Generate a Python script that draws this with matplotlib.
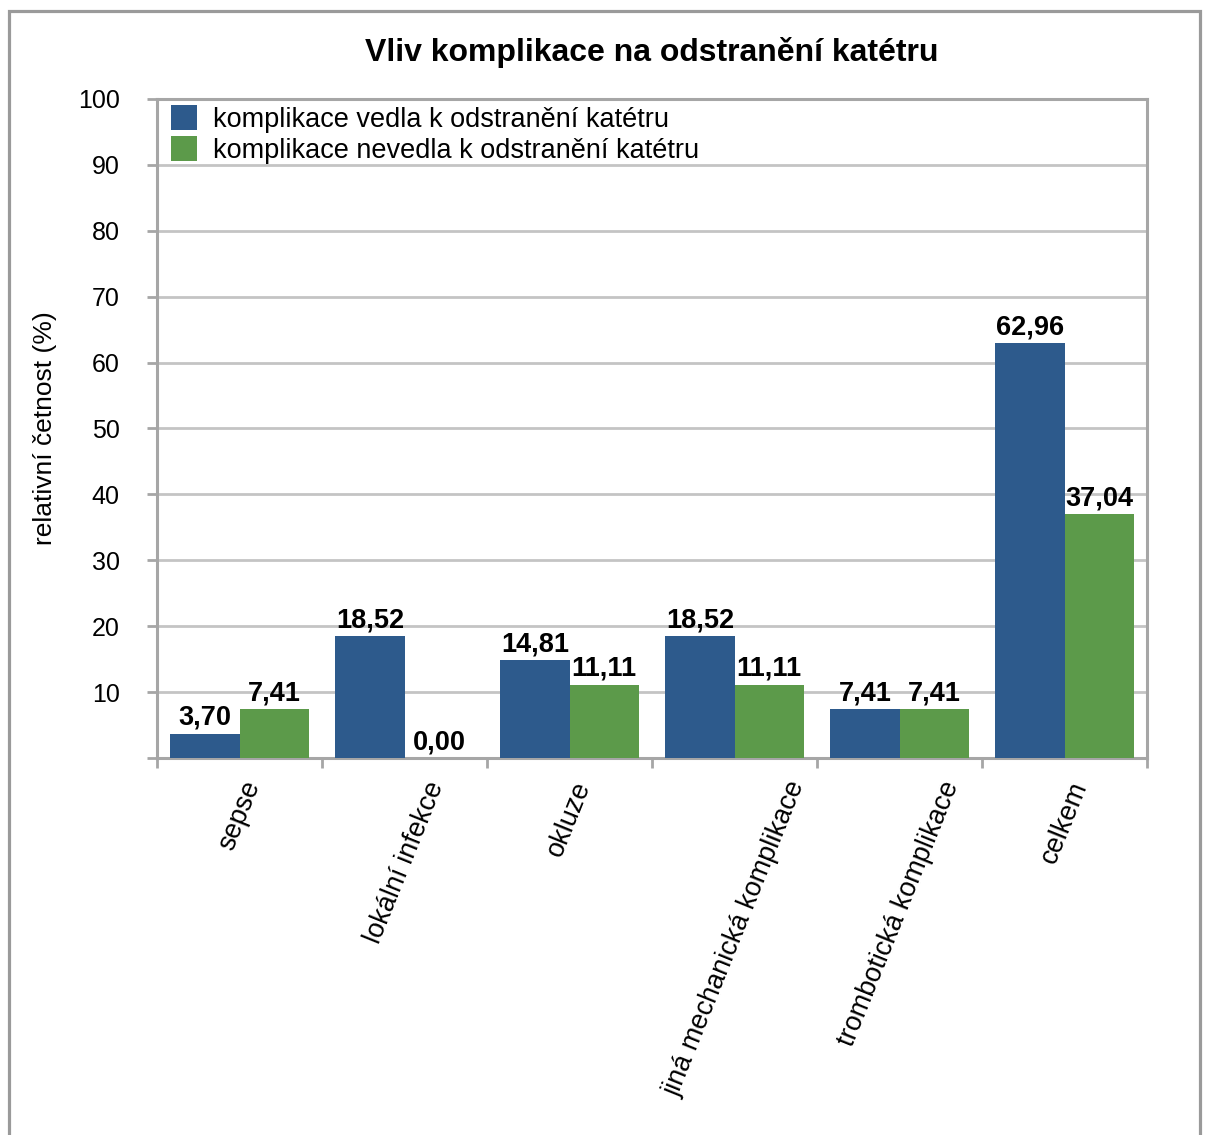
"""Grouped bar chart: share of complications that did / did not lead to catheter removal."""

import matplotlib

matplotlib.use("Agg")
import matplotlib.pyplot as plt
import numpy as np
from matplotlib.patches import Patch, Rectangle

plt.rcParams["font.family"] = ["Liberation Sans", "DejaVu Sans"]

categories = [
    "sepse",
    "lokální infekce",
    "okluze",
    "jiná mechanická komplikace",
    "trombotická komplikace",
    "celkem",
]
removed = [3.70, 18.52, 14.81, 18.52, 7.41, 62.96]
not_removed = [7.41, 0.00, 11.11, 11.11, 7.41, 37.04]
series_names = [
    "komplikace vedla k odstranění katétru",
    "komplikace nevedla k odstranění katétru",
]
yticks = list(range(0, 101, 10))

BLUE = "#2d5a8c"
GREEN = "#5c9a4a"
AXIS_GRAY = "#a6a6a6"
GRID_GRAY = "#c4c4c4"


def fmt(v: float) -> str:
    return f"{v:.2f}".replace(".", ",")


fig = plt.figure(figsize=(12.07, 11.35), dpi=100)
ax = fig.add_axes([0.1301, 0.3322, 0.8202, 0.5806])

# outer chart frame (open at the bottom edge)
fig.patches.append(
    Rectangle(
        (9 / 1207, -0.05), 1191 / 1207, 1.05 - 11 / 1135,
        transform=fig.transFigure, fill=False, edgecolor="#9a9a9a", linewidth=2.3,
    )
)

x = np.arange(len(categories))
w = 0.42
bars_a = ax.bar(x - w / 2, removed, w, color=BLUE, zorder=3)
bars_b = ax.bar(x + w / 2, not_removed, w, color=GREEN, zorder=3)

for bars, vals in ((bars_a, removed), (bars_b, not_removed)):
    for b, v in zip(bars, vals):
        ax.annotate(
            fmt(v), (b.get_x() + b.get_width() / 2, v),
            xytext=(0, 2), textcoords="offset points",
            ha="center", va="bottom", fontsize=19.5, fontweight="bold", zorder=4,
        )

ax.set_xlim(-0.5, len(categories) - 0.5)
ax.set_ylim(0, 100)

ax.set_yticks(yticks)
ax.set_yticklabels(["" if t == 0 else str(t) for t in yticks])
ax.yaxis.grid(True, color=GRID_GRAY, linewidth=2.0, zorder=0)
ax.tick_params(axis="y", direction="out", length=7, width=2, color=AXIS_GRAY,
               pad=20, labelsize=18)

# category labels: rotated box centred under each group
ax.set_xticks(x)
ax.set_xticks(np.arange(-0.5, len(categories)), minor=True)
ax.set_xticklabels(categories, rotation=68, ha="center", va="top", fontsize=19.5)
ax.tick_params(axis="x", which="major", length=0, pad=14)
ax.tick_params(axis="x", which="minor", direction="out", length=7, width=2,
               color=AXIS_GRAY)

for side in ("left", "right", "bottom", "top"):
    ax.spines[side].set_color(AXIS_GRAY)
    ax.spines[side].set_linewidth(2.2)

ax.set_ylabel("relativní četnost (%)", fontsize=19)
ax.yaxis.set_label_coords(-0.101, 0.5)

ax.set_title("Vliv komplikace na odstranění katétru", fontsize=23,
             fontweight="bold", pad=27)

handles = [Patch(facecolor=BLUE), Patch(facecolor=GREEN)]
ax.legend(
    handles, series_names, loc="upper left", bbox_to_anchor=(0.009, 0.999),
    frameon=False, fontsize=19.5, handlelength=0.95, handleheight=1.05,
    handletextpad=0.6, labelspacing=0.12, borderaxespad=0.1, borderpad=0.1,
)

fig.savefig("out.png", dpi=100)
